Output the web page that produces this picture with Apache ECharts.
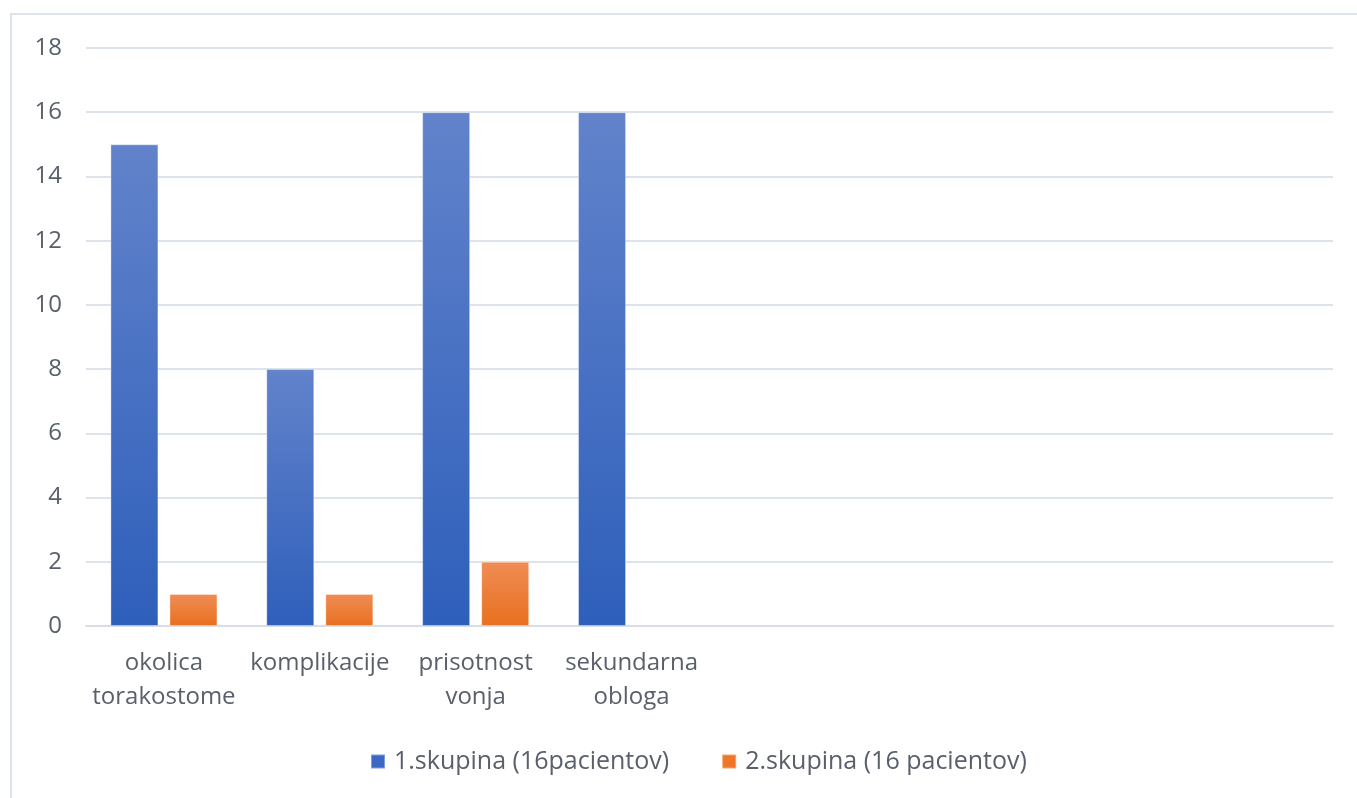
<!DOCTYPE html>
<html>
<head>
<meta charset="utf-8">
<script src="https://cdn.jsdelivr.net/npm/echarts@6/dist/echarts.min.js"></script>
<style>
  html, body { margin: 0; padding: 0; background: #fff; }
  #frame { position: absolute; left: 10px; top: 13px; width: 1400px; height: 820px;
           border-left: 2px solid #dde3ea; border-top: 2px solid #dde3ea; }
  #chart { position: absolute; left: 0; top: 0; width: 1357px; height: 798px; }
</style>
</head>
<body>
<div id="frame"></div>
<div id="chart"></div>
<script>
// Categories (the last four slots are empty on the axis)
const categories = ['okolica\ntorakostome', 'komplikacije', 'prisotnost\nvonja', 'sekundarna\nobloga', '', '', '', ''];
const seriesNames = ['1.skupina (16pacientov)', '2.skupina (16 pacientov)'];
const group1 = [15, 8, 16, 16, null, null, null, null];
const group2 = [1, 1, 2, null, null, null, null, null];
const yTicks = { min: 0, max: 18, interval: 2 };

const textColor = '#595f6b';
const font = 'Open Sans';

function grad(top, bottom) {
  return new echarts.graphic.LinearGradient(0, 0, 0, 1, [
    { offset: 0, color: top }, { offset: 1, color: bottom }
  ]);
}

const chart = echarts.init(document.getElementById('chart'));
chart.setOption({
  animation: false,
  backgroundColor: 'transparent',
  textStyle: { fontFamily: font },
  grid: { left: 86, right: 24, top: 48, bottom: 172, containLabel: false },
  legend: {
    bottom: 19,
    left: 365,
    itemWidth: 14,
    itemHeight: 14,
    itemGap: 52,
    icon: 'rect',
    textStyle: { color: textColor, fontSize: 25, fontFamily: font, padding: [0, 0, 0, 4] },
    data: [
      { name: seriesNames[0], itemStyle: { color: '#3a68c4' } },
      { name: seriesNames[1], itemStyle: { color: '#ee7628' } }
    ]
  },
  xAxis: {
    type: 'category',
    data: categories,
    axisLine: { lineStyle: { color: '#d9dee6', width: 2 } },
    axisTick: { show: false },
    axisLabel: { color: textColor, fontSize: 24, lineHeight: 34, margin: 20, interval: 0, fontFamily: font }
  },
  yAxis: {
    type: 'value',
    min: yTicks.min, max: yTicks.max, interval: yTicks.interval,
    axisLine: { show: false },
    axisTick: { show: false },
    axisLabel: { color: textColor, fontSize: 24, margin: 24, fontFamily: font },
    splitLine: { lineStyle: { color: '#dde3ea', width: 2 } }
  },
  series: [
    {
      name: seriesNames[0], type: 'bar', data: group1,
      barWidth: 48, barGap: '23%',
      itemStyle: { color: grad('#6283cb', '#2e5fbb'), borderColor: 'rgba(255,255,255,0.35)', borderWidth: 1 }
    },
    {
      name: seriesNames[1], type: 'bar', data: group2,
      barWidth: 48, barGap: '23%',
      itemStyle: { color: grad('#f08c56', '#e8701e'), borderColor: 'rgba(255,255,255,0.35)', borderWidth: 1 }
    }
  ]
});
</script>
</body>
</html>
